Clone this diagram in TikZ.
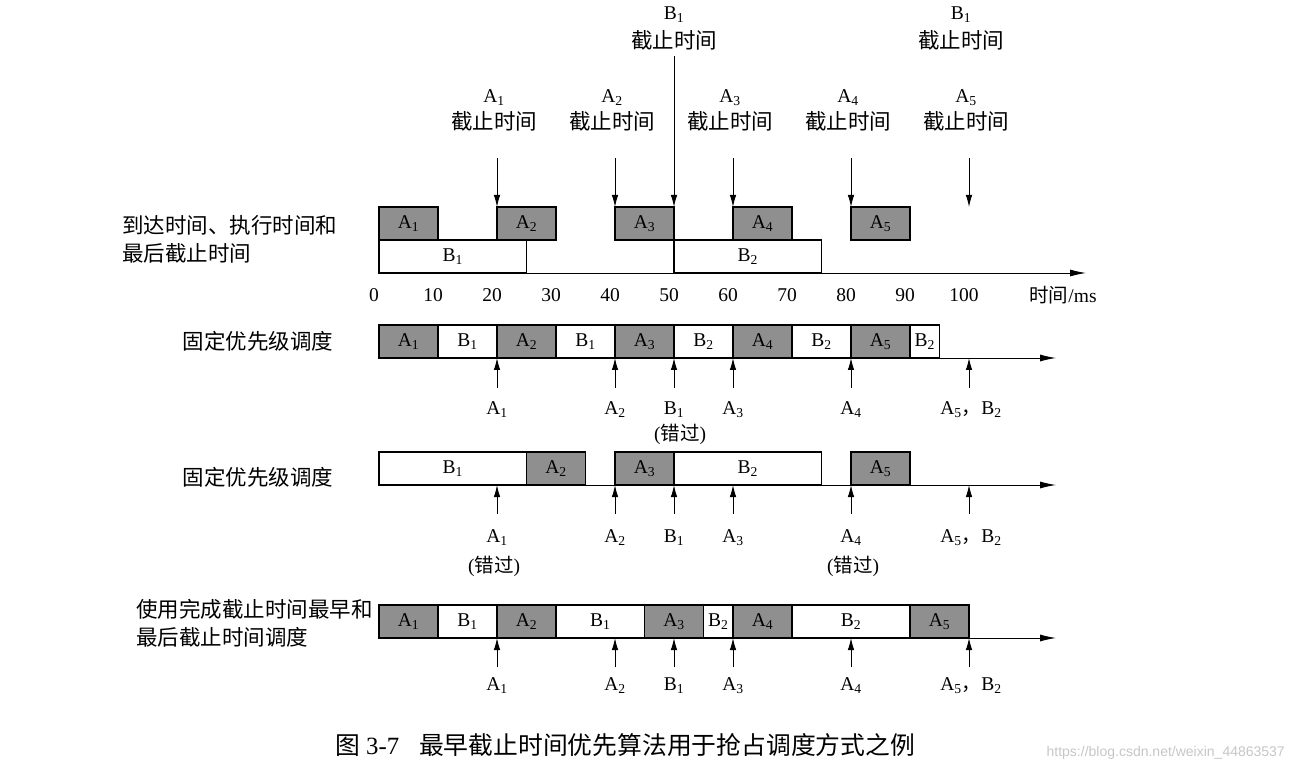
\documentclass[tikz,border=0pt]{standalone}
\usepackage{fontspec}
\setmainfont{Liberation Serif}
\newfontfamily\cjk{Noto Sans CJK SC}
\newfontfamily\wmfont{Liberation Sans}
\usetikzlibrary{arrows.meta}
\newcommand\zh[1]{{\cjk #1}}
\newcommand\sA[1]{A\textsubscript{#1}}
\newcommand\sB[1]{B\textsubscript{#1}}
\newcommand\lat{\fontsize{19.5}{22}\selectfont}
\newcommand\zhs{\fontsize{21.5}{26}\selectfont}
\tikzset{
  abox/.style={draw=black, line width=1.1pt, fill=black!44, inner sep=0pt, outer sep=0pt, font=\lat, anchor=north west},
  bbox/.style={draw=black, line width=1.1pt, fill=white, inner sep=0pt, outer sep=0pt, font=\lat, anchor=north west},
  axisline/.style={line width=0.9pt, -{Latex[length=16pt,width=7pt]}},
  darr/.style={line width=0.9pt, -{Latex[length=12pt,width=6.5pt]}},
  txt/.style={font=\lat, inner sep=0pt},
  zhtxt/.style={font=\zhs\cjk, inner sep=0pt},
}
% name, t0, t1, ytop, style, label
\newcommand\seg[6]{\node[#5, minimum width={5.9pt*(#3-#2)}, minimum height=33pt] (#1) at ({379+5.9*#2},#4) {#6};}
% name, t, ybottom, ytop : upward arrow
\newcommand\uarrow[4]{\coordinate (#1s) at ({379+5.9*#2},#3); \coordinate (#1e) at ({379+5.9*#2},#4); \draw[darr] (#1s) -- (#1e);}
\begin{document}
\begin{tikzpicture}[x=1pt,y=-1pt]
\useasboundingbox (0,0) rectangle (1293,775);

% ---------- Row 1 ----------
\node[zhtxt, anchor=west] (r1l1) at (122,225) {到达时间、执行时间和};
\node[zhtxt, anchor=west] (r1l2) at (122,253) {最后截止时间};

\coordinate (ax1s) at (379,273);
\coordinate (ax1e) at (1086,273);
\draw[axisline] (ax1s) -- (ax1e);

\seg{r1a1}{0}{10}{207}{abox}{\sA1}
\seg{r1a2}{20}{30}{207}{abox}{\sA2}
\seg{r1a3}{40}{50}{207}{abox}{\sA3}
\seg{r1a4}{60}{70}{207}{abox}{\sA4}
\seg{r1a5}{80}{90}{207}{abox}{\sA5}
\seg{r1b1}{0}{25}{240}{bbox}{\sB1}
\seg{r1b2}{50}{75}{240}{bbox}{\sB2}

\foreach \t in {0,10,...,100}{
  \node[txt] (tick\t) at ({374+5.9*\t},295) {\t};
}
\node[txt] (unit) at (1063,295) {\zh{时间}/ms};

% deadlines (top)
\foreach \i/\t in {1/20,2/40,3/60,4/80,5/100}{
  \node[txt] (dl\i) at ({376+5.9*\t},98) {\sA{\i}};
  \node[zhtxt] (dz\i) at ({376+5.9*\t},121) {截止时间};
  \coordinate (da\i s) at ({379+5.9*\t},158);
  \coordinate (da\i e) at ({379+5.9*\t},207);
  \draw[darr] (da\i s) -- (da\i e);
}
\node[txt] (db1) at (674,15) {\sB1};
\node[zhtxt] (dbz1) at (674,40) {截止时间};
\coordinate (dbs) at (674,56);
\coordinate (dbe) at (674,207);
\draw[darr] (dbs) -- (dbe);
\node[txt] (db2) at (961,15) {\sB1};
\node[zhtxt] (dbz2) at (961,40) {截止时间};

% ---------- Row 2 ----------
\node[zhtxt] (r2l) at (258,341) {固定优先级调度};
\coordinate (ax2s) at (379,358);
\coordinate (ax2e) at (1056,358);
\draw[axisline] (ax2s) -- (ax2e);
\seg{r2s1}{0}{10}{325}{abox}{\sA1}
\seg{r2s2}{10}{20}{325}{bbox}{\sB1}
\seg{r2s3}{20}{30}{325}{abox}{\sA2}
\seg{r2s4}{30}{40}{325}{bbox}{\sB1}
\seg{r2s5}{40}{50}{325}{abox}{\sA3}
\seg{r2s6}{50}{60}{325}{bbox}{\sB2}
\seg{r2s7}{60}{70}{325}{abox}{\sA4}
\seg{r2s8}{70}{80}{325}{bbox}{\sB2}
\seg{r2s9}{80}{90}{325}{abox}{\sA5}
\seg{r2s10}{90}{95}{325}{bbox}{\sB2}
\uarrow{r2u1}{20}{388}{358}
\uarrow{r2u2}{40}{388}{358}
\uarrow{r2u3}{50}{388}{358}
\uarrow{r2u4}{60}{388}{358}
\uarrow{r2u5}{80}{388}{358}
\uarrow{r2u6}{100}{388}{358}
\node[txt] (r2t1) at ({379+5.9*20},410) {\sA1};
\node[txt] (r2t2) at ({379+5.9*40},410) {\sA2};
\node[txt] (r2t3) at ({379+5.9*50},410) {\sB1};
\node[txt] (r2t4) at ({379+5.9*60},410) {\sA3};
\node[txt] (r2t5) at ({379+5.9*80},410) {\sA4};
\node[txt] (r2t6) at ({381+5.9*100},410) {\sA5\zh{，}\sB2};
\node[txt] (r2m) at (680,434) {(\zh{错过})};

% ---------- Row 3 ----------
\node[zhtxt] (r3l) at (258,477) {固定优先级调度};
\coordinate (ax3s) at (379,485);
\coordinate (ax3e) at (1056,485);
\draw[axisline] (ax3s) -- (ax3e);
\seg{r3s1}{0}{25}{452}{bbox}{\sB1}
\seg{r3s2}{25}{35}{452}{abox}{\sA2}
\seg{r3s3}{40}{50}{452}{abox}{\sA3}
\seg{r3s4}{50}{75}{452}{bbox}{\sB2}
\seg{r3s5}{80}{90}{452}{abox}{\sA5}
\uarrow{r3u1}{20}{514}{485}
\uarrow{r3u2}{40}{514}{485}
\uarrow{r3u3}{50}{514}{485}
\uarrow{r3u4}{60}{514}{485}
\uarrow{r3u5}{80}{514}{485}
\uarrow{r3u6}{100}{514}{485}
\node[txt] (r3t1) at ({379+5.9*20},538) {\sA1};
\node[txt] (r3t2) at ({379+5.9*40},538) {\sA2};
\node[txt] (r3t3) at ({379+5.9*50},538) {\sB1};
\node[txt] (r3t4) at ({379+5.9*60},538) {\sA3};
\node[txt] (r3t5) at ({379+5.9*80},538) {\sA4};
\node[txt] (r3t6) at ({381+5.9*100},538) {\sA5\zh{，}\sB2};
\node[txt] (r3m1) at (494,566) {(\zh{错过})};
\node[txt] (r3m2) at (853,566) {(\zh{错过})};

% ---------- Row 4 ----------
\node[zhtxt, anchor=west] (r4l1) at (136,609) {使用完成截止时间最早和};
\node[zhtxt, anchor=west] (r4l2) at (136,637) {最后截止时间调度};
\coordinate (ax4s) at (379,638);
\coordinate (ax4e) at (1056,638);
\draw[axisline] (ax4s) -- (ax4e);
\seg{r4s1}{0}{10}{605}{abox}{\sA1}
\seg{r4s2}{10}{20}{605}{bbox}{\sB1}
\seg{r4s3}{20}{30}{605}{abox}{\sA2}
\seg{r4s4}{30}{45}{605}{bbox}{\sB1}
\seg{r4s5}{45}{55}{605}{abox}{\sA3}
\seg{r4s6}{55}{60}{605}{bbox}{\sB2}
\seg{r4s7}{60}{70}{605}{abox}{\sA4}
\seg{r4s8}{70}{90}{605}{bbox}{\sB2}
\seg{r4s9}{90}{100}{605}{abox}{\sA5}
\uarrow{r4u1}{20}{667}{638}
\uarrow{r4u2}{40}{667}{638}
\uarrow{r4u3}{50}{667}{638}
\uarrow{r4u4}{60}{667}{638}
\uarrow{r4u5}{80}{667}{638}
\uarrow{r4u6}{100}{667}{638}
\node[txt] (r4t1) at ({379+5.9*20},686) {\sA1};
\node[txt] (r4t2) at ({379+5.9*40},686) {\sA2};
\node[txt] (r4t3) at ({379+5.9*50},686) {\sB1};
\node[txt] (r4t4) at ({379+5.9*60},686) {\sA3};
\node[txt] (r4t5) at ({379+5.9*80},686) {\sA4};
\node[txt] (r4t6) at ({381+5.9*100},686) {\sA5\zh{，}\sB2};

% ---------- Caption ----------
\node[inner sep=0pt, anchor=west, font=\fontsize{24.8}{28}\selectfont] (cap) at (335,745)
  {\zh{图} 3-7\hspace{0.8em}\zh{最早截止时间优先算法用于抢占调度方式之例}};
\node[inner sep=0pt, anchor=east, text=gray!45, font=\fontsize{14}{16}\selectfont\wmfont] (wm) at (1285,753)
  {https://blog.csdn.net/weixin\_44863537};
\end{tikzpicture}
\end{document}
